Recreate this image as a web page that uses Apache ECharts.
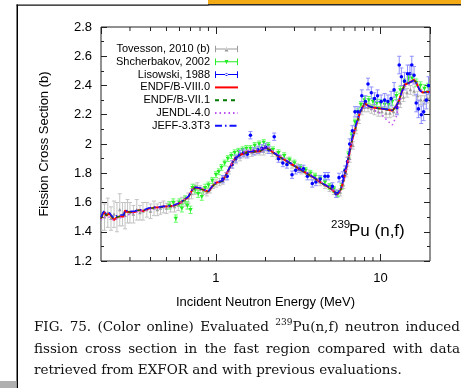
<!DOCTYPE html>
<html><head><meta charset="utf-8">
<script src="https://cdn.jsdelivr.net/npm/echarts@6/dist/echarts.min.js"></script>
<style>html,body{margin:0;padding:0;background:#fff;overflow:hidden}#c{width:461px;height:388px}</style>
</head><body><div id="c"></div>
<script>
// ---------- data ----------
const seriesNames = ['Tovesson, 2010 (b)', 'Shcherbakov, 2002', 'Lisowski, 1988', 'ENDF/B-VIII.0', 'ENDF/B-VII.1', 'JENDL-4.0', 'JEFF-3.3T3'];
const yTickLabels = ['1.2','1.4','1.6','1.8','2','2.2','2.4','2.6','2.8'];
const xTickLabels = ['1','10'];
const xMinorTicks = [0.3,0.4,0.5,0.6,0.7,0.8,0.9,2,3,4,5,6,7,8,9];

const energyGrid = [0.2,0.205,0.21,0.215,0.22,0.225,0.23,0.24,0.25,0.26,0.275,0.28,0.29,0.3,0.32,0.34,0.36,0.39,0.42,0.45,0.48,0.52,0.55,0.6,0.64,0.68,0.72,0.75,0.8,0.86,0.9,0.95,1.0,1.1,1.2,1.3,1.4,1.55,1.7,1.85,2.0,2.1,2.3,2.6,3.0,3.5,4.0,4.5,5.0,5.3,5.5,5.75,6.0,6.3,6.7,7.1,7.5,8.0,8.5,9.0,10,11,11.8,12.5,13,13.5,14,15,16,16.5,17.3,18,19,20];
const endf80 = [1.49,1.52,1.535,1.51,1.50,1.525,1.51,1.48,1.50,1.505,1.505,1.545,1.535,1.535,1.535,1.548,1.542,1.558,1.565,1.567,1.572,1.575,1.578,1.595,1.617,1.638,1.69,1.703,1.697,1.681,1.675,1.71,1.735,1.748,1.83,1.90,1.925,1.945,1.948,1.95,1.975,1.965,1.93,1.893,1.85,1.805,1.765,1.725,1.695,1.668,1.66,1.69,1.76,1.87,2.02,2.125,2.215,2.278,2.258,2.25,2.242,2.235,2.228,2.26,2.30,2.36,2.405,2.42,2.438,2.42,2.37,2.352,2.355,2.358];
const endf71 = [1.49,1.518,1.532,1.512,1.502,1.522,1.512,1.485,1.50,1.505,1.508,1.542,1.535,1.536,1.537,1.548,1.544,1.557,1.563,1.566,1.571,1.574,1.577,1.594,1.615,1.636,1.688,1.70,1.695,1.68,1.675,1.708,1.733,1.746,1.828,1.898,1.923,1.943,1.947,1.95,1.973,1.963,1.93,1.892,1.849,1.804,1.764,1.724,1.694,1.667,1.66,1.69,1.76,1.868,2.02,2.122,2.213,2.276,2.256,2.248,2.24,2.233,2.226,2.258,2.298,2.358,2.403,2.418,2.436,2.418,2.368,2.35,2.353,2.356];
const jendl40 = [1.48,1.50,1.51,1.50,1.49,1.50,1.495,1.475,1.49,1.495,1.50,1.51,1.515,1.52,1.53,1.54,1.545,1.55,1.56,1.563,1.568,1.572,1.577,1.595,1.618,1.64,1.69,1.705,1.70,1.685,1.678,1.712,1.738,1.752,1.835,1.905,1.935,1.955,1.96,1.965,1.985,1.975,1.94,1.90,1.855,1.81,1.77,1.73,1.70,1.672,1.662,1.685,1.75,1.86,2.01,2.12,2.21,2.27,2.245,2.235,2.21,2.16,2.13,2.19,2.27,2.34,2.39,2.41,2.43,2.42,2.38,2.36,2.35,2.355];
const jeff33 = [1.50,1.53,1.545,1.52,1.515,1.53,1.515,1.495,1.51,1.515,1.515,1.55,1.54,1.54,1.54,1.552,1.548,1.562,1.568,1.57,1.575,1.578,1.58,1.598,1.62,1.642,1.692,1.705,1.70,1.685,1.678,1.712,1.738,1.75,1.832,1.90,1.927,1.946,1.95,1.952,1.976,1.966,1.932,1.895,1.852,1.807,1.767,1.727,1.697,1.67,1.663,1.70,1.775,1.885,2.035,2.135,2.22,2.28,2.26,2.252,2.244,2.237,2.23,2.262,2.30,2.36,2.405,2.42,2.436,2.418,2.368,2.35,2.354,2.356];

const tovE = [0.2,0.21,0.22,0.23,0.24,0.25,0.26,0.27,0.28,0.29,0.3,0.315,0.33,0.345,0.36,0.38,0.4,0.42,0.44,0.46,0.48,0.5,0.53,0.56,0.59,0.62,0.65,0.68,0.71,0.74,0.77,0.8,0.84,0.88,0.92,0.96,1.0,1.05,1.1,1.15,1.2,1.26,1.32,1.4,1.48,1.56,1.65,1.75,1.85,1.95,2.05,2.2,2.35,2.5,2.7,2.9,3.1,3.3,3.55,3.8,4.05,4.3,4.6,4.9,5.2,5.45,5.7,5.95,6.2,6.5,6.8,7.1,7.4,7.7,8.0,8.4,8.8,9.2,9.7,10.2,10.8,11.4,12.0,12.6,13.2,13.8,14.5,15.2,16.0,16.8,17.6,18.5,19.4];
const tovV = [1.51,1.50,1.53,1.49,1.52,1.50,1.55,1.52,1.51,1.54,1.53,1.52,1.55,1.53,1.54,1.55,1.54,1.56,1.55,1.56,1.57,1.56,1.57,1.57,1.58,1.60,1.61,1.63,1.66,1.69,1.70,1.69,1.68,1.67,1.69,1.72,1.73,1.74,1.75,1.78,1.82,1.86,1.89,1.91,1.93,1.94,1.94,1.95,1.95,1.95,1.96,1.94,1.92,1.90,1.88,1.86,1.84,1.82,1.80,1.78,1.76,1.74,1.72,1.70,1.68,1.66,1.67,1.72,1.80,1.90,1.99,2.10,2.17,2.23,2.25,2.25,2.24,2.23,2.22,2.22,2.21,2.21,2.22,2.24,2.28,2.32,2.35,2.37,2.36,2.33,2.30,2.30,2.31];
const tovErr = [0.10,0.09,0.10,0.08,0.09,0.10,0.11,0.08,0.09,0.08,0.07,0.06,0.07,0.05,0.06,0.05,0.05,0.05,0.04,0.04,0.04,0.035,0.035,0.035,0.035,0.035,0.035,0.035,0.035,0.035,0.035,0.025,0.025,0.025,0.025,0.025,0.025,0.025,0.025,0.025,0.025,0.025,0.025,0.025,0.025,0.025,0.025,0.025,0.025,0.025,0.025,0.025,0.025,0.025,0.025,0.025,0.025,0.025,0.025,0.025,0.025,0.025,0.025,0.025,0.025,0.025,0.025,0.025,0.025,0.025,0.025,0.03,0.03,0.03,0.03,0.03,0.03,0.03,0.03,0.03,0.03,0.03,0.03,0.03,0.03,0.03,0.03,0.03,0.03,0.03,0.03,0.03,0.03];

const shcE = [0.52,0.55,0.57,0.6,0.62,0.65,0.67,0.7,0.72,0.75,0.78,0.82,0.86,0.9,0.95,1.0,1.04,1.08,1.13,1.18,1.24,1.3,1.37,1.45,1.53,1.62,1.72,1.83,1.95,2.08,2.22,2.4,2.6,2.8,3.0,3.25,3.5,3.75,4.0,4.3,4.6,4.9,5.2,5.5,5.8,6.1,6.4,6.7,7.0,7.3,7.6,8.0,8.5,9.0,9.5,10,10.6,11.2,11.8,12.5,13.2,14,14.8,15.6,16.5,17.5,18.5,19.5];
const shcV = [1.58,1.60,1.49,1.60,1.56,1.62,1.58,1.55,1.70,1.69,1.66,1.64,1.70,1.72,1.75,1.79,1.81,1.84,1.87,1.90,1.92,1.94,1.95,1.96,1.97,1.97,1.99,2.00,2.01,1.99,1.96,1.94,1.92,1.89,1.87,1.84,1.82,1.80,1.78,1.76,1.74,1.71,1.69,1.66,1.71,1.81,1.93,2.06,2.15,2.22,2.27,2.30,2.30,2.29,2.28,2.28,2.27,2.27,2.29,2.33,2.37,2.42,2.45,2.45,2.42,2.40,2.38,2.39];
const shcErr = [0.025,0.025,0.025,0.025,0.025,0.025,0.025,0.025,0.025,0.025,0.025,0.025,0.025,0.02,0.02,0.02,0.02,0.02,0.02,0.02,0.02,0.02,0.02,0.02,0.02,0.02,0.02,0.02,0.02,0.02,0.02,0.02,0.02,0.02,0.02,0.02,0.02,0.02,0.02,0.02,0.02,0.02,0.02,0.02,0.02,0.02,0.02,0.02,0.02,0.02,0.02,0.025,0.025,0.025,0.025,0.025,0.025,0.025,0.025,0.025,0.025,0.025,0.025,0.025,0.025,0.025,0.025,0.025];

const lisE = [1.1,1.17,1.25,1.32,1.4,1.47,1.55,1.62,1.7,1.8,1.9,2.0,2.1,2.26,2.4,2.55,2.7,2.9,3.05,3.2,3.4,3.6,3.85,4.05,4.3,4.6,4.8,5.1,5.37,5.6,5.9,6.1,6.3,6.5,6.75,7.0,7.3,7.7,8.1,8.4,8.8,9.2,9.6,10.1,10.6,11.1,11.6,12.1,12.6,13.0,13.4,14.0,14.6,15.1,15.5,16.0,16.5,17.0,17.7,18.3,19.0,19.6];
const lisV = [1.76,1.78,1.86,1.90,1.93,1.94,1.93,2.06,1.95,1.96,1.97,1.98,1.96,2.05,1.90,1.87,1.86,1.79,1.82,1.83,1.83,1.78,1.73,1.74,1.76,1.78,1.78,1.71,1.66,1.77,1.78,1.82,1.88,2.00,2.09,2.22,2.22,2.33,2.29,2.41,2.35,2.31,2.33,2.29,2.30,2.29,2.31,2.37,2.25,2.54,2.46,2.43,2.48,2.48,2.54,2.47,2.28,2.24,2.20,2.22,2.30,2.40];
const lisErr = [0.025,0.025,0.025,0.025,0.025,0.025,0.025,0.025,0.025,0.025,0.025,0.025,0.025,0.025,0.025,0.025,0.025,0.025,0.025,0.025,0.025,0.025,0.025,0.025,0.025,0.025,0.025,0.025,0.025,0.03,0.03,0.03,0.03,0.035,0.035,0.035,0.035,0.04,0.04,0.04,0.04,0.04,0.04,0.045,0.045,0.045,0.05,0.05,0.05,0.06,0.06,0.06,0.06,0.06,0.06,0.06,0.06,0.06,0.06,0.06,0.06,0.06];

const captionLines = [
  ['FIG.','75.','(Color','online)','Evaluated','@239@Pu(n,f)','neutron','induced'],
  ['fission','cross','section','in','the','fast','region','compared','with','data'],
  ['retrieved from EXFOR and with previous evaluations.']
];

// ---------- chart ----------
const chart = echarts.init(document.getElementById('c'), null, {renderer: 'canvas'});
const SANS = '"Liberation Sans", Arial, sans-serif';
const SERIF = '"DejaVu Serif", serif';

function errSeries(name, E, V, Err, color, barColor, shape, size) {
  return {
    name: name, type: 'custom', coordinateSystem: 'cartesian2d', clip: true,
    itemStyle: {color: color},
    encode: {x: 0, y: 1},
    data: E.map((e, i) => [e, V[i], Err[i]]),
    renderItem: function (params, api) {
      const e = api.value(0), v = api.value(1), er = api.value(2);
      const p = api.coord([e, v]), lo = api.coord([e, v - er]), hi = api.coord([e, v + er]);
      const cw = 2;
      const st = {stroke: barColor, lineWidth: 1};
      const ch = [
        {type: 'line', shape: {x1: p[0], y1: lo[1], x2: p[0], y2: hi[1]}, style: st},
        {type: 'line', shape: {x1: p[0] - cw, y1: lo[1], x2: p[0] + cw, y2: lo[1]}, style: st},
        {type: 'line', shape: {x1: p[0] - cw, y1: hi[1], x2: p[0] + cw, y2: hi[1]}, style: st}
      ];
      if (shape === 'circle') ch.push({type: 'circle', shape: {cx: p[0], cy: p[1], r: size}, style: {fill: color}});
      else if (shape === 'up') ch.push({type: 'polygon', shape: {points: [[p[0], p[1] - size], [p[0] - size, p[1] + size * 0.8], [p[0] + size, p[1] + size * 0.8]]}, style: {fill: color}});
      else ch.push({type: 'polygon', shape: {points: [[p[0], p[1] + size], [p[0] - size, p[1] - size * 0.8], [p[0] + size, p[1] - size * 0.8]]}, style: {fill: color}});
      return {type: 'group', children: ch};
    }
  };
}
function lineSeries(name, vals, color, width, type) {
  return {
    name: name, type: 'line', symbol: 'none', smooth: false, clip: true,
    lineStyle: {color: color, width: width, type: type},
    itemStyle: {color: color},
    data: energyGrid.map((e, i) => [e, vals[i]])
  };
}

// caption justification
const mctx = document.createElement('canvas').getContext('2d');
function tw(t, size) { mctx.font = size + 'px ' + SERIF; return mctx.measureText(t).width; }
const CAP_SIZE = 13.5, SUP_SIZE = 9, CAP_X0 = 34, CAP_X1 = 460, CAP_Y = [327, 349, 370.5];
const graphics = [];
captionLines.forEach((words, li) => {
  const parts = words.map(w => {
    if (w.startsWith('@')) { const s = w.split('@'); return {sup: s[1], main: s[2], w: tw(s[1], SUP_SIZE) + tw(s[2], CAP_SIZE)}; }
    return {main: w, w: tw(w, CAP_SIZE)};
  });
  const total = parts.reduce((a, p) => a + p.w, 0);
  const gap = parts.length > 1 ? (CAP_X1 - CAP_X0 - total) / (parts.length - 1) : 0;
  let x = CAP_X0;
  parts.forEach(p => {
    let xx = x;
    if (p.sup) {
      graphics.push({type: 'text', x: xx, y: CAP_Y[li] - 4.5, style: {text: p.sup, font: SUP_SIZE + 'px ' + SERIF, fill: '#111', verticalAlign: 'middle'}});
      xx += tw(p.sup, SUP_SIZE);
    }
    graphics.push({type: 'text', x: xx, y: CAP_Y[li], style: {text: p.main, font: CAP_SIZE + 'px ' + SERIF, fill: '#111', verticalAlign: 'middle'}});
    x += p.w + gap;
  });
});
// page decorations
graphics.push({type: 'rect', shape: {x: 16.5, y: 4.5, width: 1.5, height: 384}, style: {fill: '#000'}});
graphics.push({type: 'rect', shape: {x: 16.5, y: 4.5, width: 192, height: 1.3}, style: {fill: '#111'}});
graphics.push({type: 'rect', shape: {x: 208, y: 0, width: 253, height: 4}, style: {fill: '#f4aa14'}});
graphics.push({type: 'rect', shape: {x: 208, y: 4, width: 253, height: 1.5}, style: {fill: '#2a2a2a'}});
graphics.push({type: 'rect', shape: {x: 0, y: 381, width: 16.5, height: 7}, style: {fill: '#b0b0b0'}});
// reaction annotation
graphics.push({type: 'text', x: 331, y: 224.5, style: {text: '239', font: '11.5px ' + SANS, fill: '#000', verticalAlign: 'middle'}});
graphics.push({type: 'text', x: 349, y: 231, style: {text: 'Pu (n,f)', font: '17px ' + SANS, fill: '#000', verticalAlign: 'middle'}});

const errIcon = 'path://M0,4.5H24V5.5H0Z M0,1.5H1V8.5H0Z M23,1.5H24V8.5H23Z ';
const triUp = 'M10,7.5L14,7.5L12,3Z', triDown = 'M10,3L14,3L12,7.5Z', dot = 'M10.5,5A1.5,1.5,0,1,0,13.5,5A1.5,1.5,0,1,0,10.5,5Z';
const noSym = {color: 'rgba(0,0,0,0)', opacity: 0, borderWidth: 0};

const axisCommon = {
  axisLine: {show: false},
  splitLine: {show: false}
};
chart.setOption({
  animation: false,
  backgroundColor: '#fff',
  grid: {left: 101, top: 27, width: 329, height: 234, show: true, borderColor: '#222', borderWidth: 1, backgroundColor: 'transparent'},
  xAxis: [
    Object.assign({type: 'log', logBase: 10, min: 0.2, max: 20, position: 'bottom',
      name: 'Incident Neutron Energy (MeV)', nameLocation: 'middle', nameGap: 34.5,
      nameTextStyle: {fontFamily: SANS, fontSize: 13, color: '#000'},
      axisTick: {inside: true, length: 7, lineStyle: {color: '#222'}},
      axisLabel: {fontFamily: SANS, fontSize: 13, color: '#000', margin: 11, showMinLabel: false, showMaxLabel: false,
        formatter: v => { const i = [1, 10].findIndex(t => Math.abs(t - v) < 1e-6); return i >= 0 ? xTickLabels[i] : ''; }}
    }, axisCommon),
    Object.assign({type: 'log', logBase: 10, min: 0.2, max: 20, position: 'top',
      axisTick: {inside: true, length: 7, lineStyle: {color: '#222'}}, axisLabel: {show: false}}, axisCommon)
  ],
  yAxis: [
    Object.assign({type: 'value', min: 1.2, max: 2.8, interval: 0.2, position: 'left',
      name: 'Fission Cross Section (b)', nameLocation: 'middle', nameGap: 50,
      nameTextStyle: {fontFamily: SANS, fontSize: 13, color: '#000'},
      axisTick: {inside: true, length: 6, lineStyle: {color: '#222'}},
      minorTick: {show: true, splitNumber: 2, length: 3, lineStyle: {color: '#222'}},
      axisLabel: {fontFamily: SANS, fontSize: 13, color: '#000', margin: 9,
        formatter: v => yTickLabels[Math.round((v - 1.2) / 0.2)]}
    }, axisCommon),
    Object.assign({type: 'value', min: 1.2, max: 2.8, interval: 0.2, position: 'right',
      axisTick: {inside: true, length: 6, lineStyle: {color: '#222'}},
      minorTick: {show: true, splitNumber: 2, length: 3, lineStyle: {color: '#222'}},
      axisLabel: {show: false}}, axisCommon)
  ],
  legend: {
    orient: 'vertical', align: 'right', right: 222, top: 43.5, padding: 0, itemGap: 1.8,
    itemWidth: 23, itemHeight: 10,
    textStyle: {fontFamily: SANS, fontSize: 11, color: '#000'},
    data: [
      {name: seriesNames[0], icon: errIcon + triUp},
      {name: seriesNames[1], icon: errIcon + triDown},
      {name: seriesNames[2], icon: errIcon + dot},
      {name: seriesNames[3], itemStyle: noSym},
      {name: seriesNames[4], itemStyle: noSym},
      {name: seriesNames[5], itemStyle: noSym},
      {name: seriesNames[6], itemStyle: noSym}
    ]
  },
  graphic: graphics,
  series: [
    {
      type: 'custom', name: 'minorTicks', silent: true, clip: false,
      data: xMinorTicks.map(v => [v, 2]),
      renderItem: function (params, api) {
        const x = api.coord([api.value(0), 2])[0];
        const cs = params.coordSys;
        const st = {stroke: '#222', lineWidth: 1};
        return {type: 'group', children: [
          {type: 'line', shape: {x1: x, y1: cs.y + cs.height, x2: x, y2: cs.y + cs.height - 4}, style: st},
          {type: 'line', shape: {x1: x, y1: cs.y, x2: x, y2: cs.y + 4}, style: st}
        ]};
      }
    },
    errSeries(seriesNames[0], tovE, tovV, tovErr, '#9a9a9a', '#c4c4c4', 'up', 1.8),
    errSeries(seriesNames[1], shcE, shcV, shcErr, '#22ee22', '#66ff66', 'down', 2.2),
    errSeries(seriesNames[2], lisE, lisV, lisErr, '#0000ff', '#8f8fff', 'circle', 1.8),
    lineSeries(seriesNames[3], endf80, '#ff0000', 2, 'solid'),
    lineSeries(seriesNames[4], endf71, '#007a00', 1.2, [4, 4]),
    lineSeries(seriesNames[5], jendl40, '#c050f0', 1.5, [1.5, 3]),
    lineSeries(seriesNames[6], jeff33, '#1010ff', 1.5, [7, 3, 1.5, 3])
  ]
});
</script>
</body></html>
